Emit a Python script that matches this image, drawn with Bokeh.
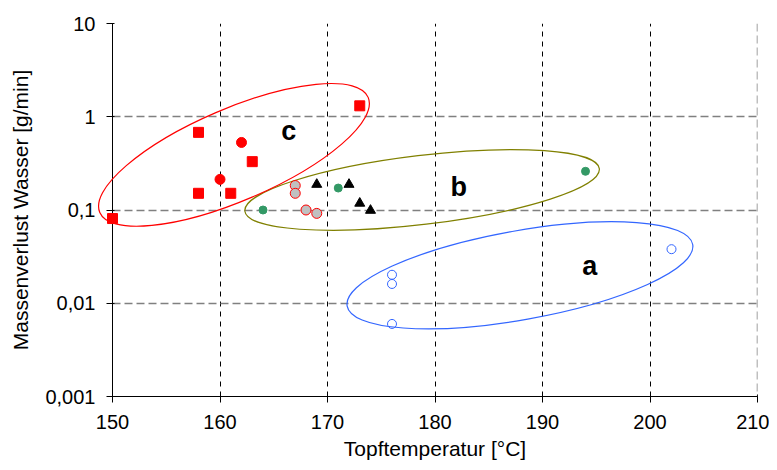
from bokeh.plotting import figure
from bokeh.models import FixedTicker, Span
from bokeh.core.properties import value
from bokeh.embed import file_html
from bokeh.resources import INLINE

# ---- data ----
sq_red_x = [150, 158, 158, 161, 163, 173]
sq_red_y = [0.081, 0.68, 0.151, 0.151, 0.33, 1.31]

circ_red_x = [160, 162]
circ_red_y = [0.213, 0.53]

circ_grey_x = [167, 167, 168, 169]
circ_grey_y = [0.183, 0.151, 0.10, 0.092]

circ_green_x = [164, 171, 194]
circ_green_y = [0.10, 0.172, 0.26]

tri_black_x = [169, 172, 173, 174]
tri_black_y = [0.188, 0.188, 0.118, 0.099]

circ_blue_x = [176, 176, 176, 202]
circ_blue_y = [0.0202, 0.0161, 0.0060, 0.038]

group_labels = ["a", "b", "c"]
group_label_x = [194.4, 182.2, 166.4]
group_label_y = [0.0251, 0.175, 0.71]

ell_cx = [187.9, 178.8, 161.3]
ell_cy = [0.01995, 0.164, 0.390]
ell_w = [351, 357, 292]
ell_h = [89, 69, 92]
ell_angle = [10.1, 6.85, 23.2]
ell_color = ["#3366ff", "#808000", "#ff0000"]

x_ticks = [150, 160, 170, 180, 190, 200, 210]
y_ticks = [0.001, 0.01, 0.1, 1, 10]
y_tick_labels = ["0,001", "0,01", "0,1", "1", "10"]

FONT = "Liberation Sans"

p = figure(width=769, height=462, x_range=(150, 210), y_range=(0.001, 10),
           y_axis_type="log", output_backend="svg", toolbar_location=None,
           min_border_left=112, min_border_right=12, min_border_top=23,
           min_border_bottom=64)
p.outline_line_color = None
p.background_fill_color = "white"
p.border_fill_color = "white"

# axes
p.xaxis.ticker = FixedTicker(ticks=x_ticks)
p.yaxis.ticker = FixedTicker(ticks=y_ticks)
p.yaxis.major_label_overrides = {t: l for t, l in zip(y_ticks, y_tick_labels)}
for ax in (p.xaxis[0], p.yaxis[0]):
    ax.axis_line_color = "black"
    ax.axis_line_width = 1
    ax.major_tick_line_color = "black"
    ax.major_tick_out = 6
    ax.major_tick_in = 2
    ax.minor_tick_line_color = None
    ax.major_label_text_font = FONT
    ax.major_label_text_font_size = "20px"
    ax.major_label_text_color = "black"
    ax.axis_label_text_font = FONT
    ax.axis_label_text_font_size = "21px"
    ax.axis_label_text_font_style = "normal"
    ax.axis_label_text_color = "black"
p.xaxis.axis_label = "Topftemperatur [°C]"
p.yaxis.axis_label = "Massenverlust Wasser [g/min]"
p.xaxis.major_label_standoff = 12
p.xaxis.axis_label_standoff = 5
p.yaxis.major_label_standoff = 11
p.yaxis.axis_label_standoff = 10

# grids
p.xgrid.ticker = FixedTicker(ticks=[160, 170, 180, 190, 200])
p.xgrid.grid_line_color = "black"
p.xgrid.grid_line_dash = "5 5"
p.xgrid.grid_line_width = 1
p.ygrid.ticker = FixedTicker(ticks=[0.01, 0.1, 1, 10])
p.ygrid.grid_line_color = "#808080"
p.ygrid.grid_line_dash = "8 4"
p.ygrid.grid_line_width = 1.5
p.add_layout(Span(location=210, dimension="height", line_color="#808080",
                  line_dash="8 4", line_width=1.5))

# ellipses (drawn unclipped, like the original)
p.ellipse(x=ell_cx, y=ell_cy, width=ell_w, height=ell_h, angle=ell_angle,
          angle_units="deg", width_units="screen", height_units="screen",
          fill_color=None, line_color=ell_color, line_width=1.2, level="overlay")

# points
p.scatter(sq_red_x, sq_red_y, marker="square", size=10,
          fill_color="#ff0000", line_color="#ff0000", level="overlay")
p.scatter(circ_red_x, circ_red_y, marker="circle", size=10,
          fill_color="#ff0000", line_color="#ff0000", level="overlay")
p.scatter(circ_grey_x, circ_grey_y, marker="circle", size=10,
          fill_color="#c0c0c0", line_color="#ff0000", line_width=1, level="overlay")
p.scatter(circ_green_x, circ_green_y, marker="circle", size=8,
          fill_color="#339966", line_color="#339966", level="overlay")
p.scatter(tri_black_x, tri_black_y, marker="triangle", size=10,
          fill_color="black", line_color="black", level="overlay")
p.scatter(circ_blue_x, circ_blue_y, marker="circle", size=9,
          fill_color=None, line_color="#3366ff", line_width=1, level="overlay")

# group labels
p.text(x=group_label_x, y=group_label_y, text=group_labels,
       text_font=value(FONT), text_font_size="27px", text_font_style="bold",
       text_align="center", text_baseline="middle", text_color="black",
       level="overlay")

open("out.html", "w").write(file_html(p, INLINE))
